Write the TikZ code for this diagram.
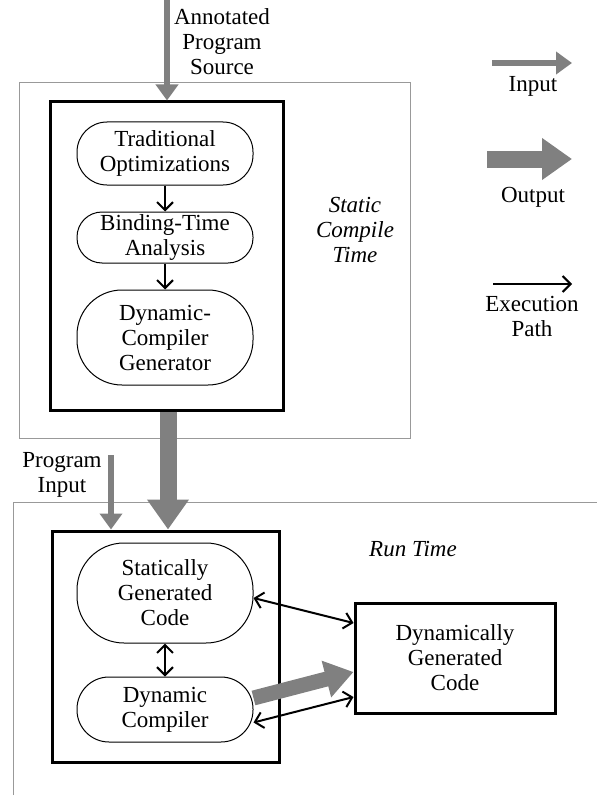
\documentclass[tikz,border=0pt]{standalone}
\usepackage{fontspec}
\setmainfont{Liberation Serif}
\usetikzlibrary{arrows.meta, positioning, calc}

\begin{document}
\begin{tikzpicture}[
    x=1pt, y=-1pt,
    font=\fontsize{23}{25}\selectfont,
    stage/.style={draw, line width=1pt, rounded corners=30pt, minimum width=176pt, align=center, inner sep=2pt},
    frame/.style={draw, line width=3pt},
    phase/.style={draw=black!40, line width=1pt},
    lbl/.style={align=center, inner sep=0pt},
    inarrow/.style={draw=black!50, line width=6pt, -{Triangle[length=16pt, width=22pt]}},
    outarrow/.style={draw=black!50, line width=17pt, -{Triangle[length=30pt, width=40pt]}},
    exec/.style={line width=2pt, -{Straight Barb[length=8pt, width=16pt]}},
    execboth/.style={line width=2pt, {Straight Barb[length=8pt, width=16pt]}-{Straight Barb[length=8pt, width=16pt]}},
]
\useasboundingbox (0,0) rectangle (597,797);

% Static compile time
\node[phase, minimum width=391pt, minimum height=355pt] (static) at (214.5,260.5) {};
\node[frame, minimum width=233pt, minimum height=308pt] (sbox) at (166.5,256) {};
\node[stage, minimum height=63pt] (trad) at (165,153.5) {Traditional\\Optimizations};
\node[stage, minimum height=51pt, rounded corners=25pt] (bta) at (165,237.5) {Binding-Time\\Analysis};
\node[stage, minimum height=95pt, rounded corners=45pt] (dcg) at (165,337.5) {Dynamic-\\Compiler\\Generator};
\node[lbl, font=\fontsize{23}{25}\selectfont\itshape] (stlbl) at (355,230) {Static\\Compile\\Time};

\coordinate (src) at (167,0);
\node[lbl] (srclbl) at (222,41.5) {Annotated\\Program\\Source};
\draw[inarrow] (src) -- (src |- sbox.north);
\draw[exec] (trad) -- (bta);
\draw[exec] (bta) -- (dcg);

% Run time
\coordinate (rtl) at (13,795);
\coordinate (rtc) at (13,502);
\coordinate (rtr) at (597,502);
\draw[phase] (rtl) -- (rtc) -- (rtr);
\node[lbl, font=\fontsize{23}{25}\selectfont\itshape] (rtlbl) at (413,549) {Run Time};
\node[frame, minimum width=227pt, minimum height=231pt] (rbox) at (165.5,646.5) {};
\node[stage, minimum height=100pt, rounded corners=47pt] (sgc) at (165,593) {Statically\\Generated\\Code};
\node[stage, minimum height=65pt, rounded corners=32pt] (dc) at (165,709.5) {Dynamic\\Compiler};
\node[frame, minimum width=200pt, minimum height=110pt, align=center] (dgc) at (455,658) {Dynamically\\Generated\\Code};

\draw[outarrow] (sbox.south -| 168,0) -- (rbox.north -| 168,0);
\coordinate (pin) at (111,455);
\node[lbl] (pinlbl) at (62,475) {Program\\Input};
\draw[inarrow] (pin) -- (pin |- rbox.north);

\draw[execboth] (sgc) -- (dc);
\draw[execboth] ([yshift=-5pt]sgc.east) -- ([yshift=35pt]dgc.west);
\draw[outarrow, line width=15pt, -{Triangle[length=28pt, width=36pt]}] ([yshift=11.5pt]dc.east) -- ([yshift=-14pt]dgc.west);
\draw[execboth] ([yshift=-13pt]dc.east) -- ([yshift=-39pt]dgc.west);

% Legend
\coordinate (ins) at (492,63);
\coordinate (ine) at (572,63);
\draw[inarrow] (ins) -- (ine);
\node[lbl] (inlbl) at (533,86.5) {Input};
\coordinate (outs) at (487,159);
\coordinate (oute) at (572,159);
\draw[outarrow] (outs) -- (oute);
\node[lbl] (outlbl) at (533,197.5) {Output};
\coordinate (exs) at (493,284);
\coordinate (exe) at (572,284);
\draw[exec] (exs) -- (exe);
\node[lbl] (exlbl) at (532,316) {Execution\\Path};

\end{tikzpicture}
\end{document}
